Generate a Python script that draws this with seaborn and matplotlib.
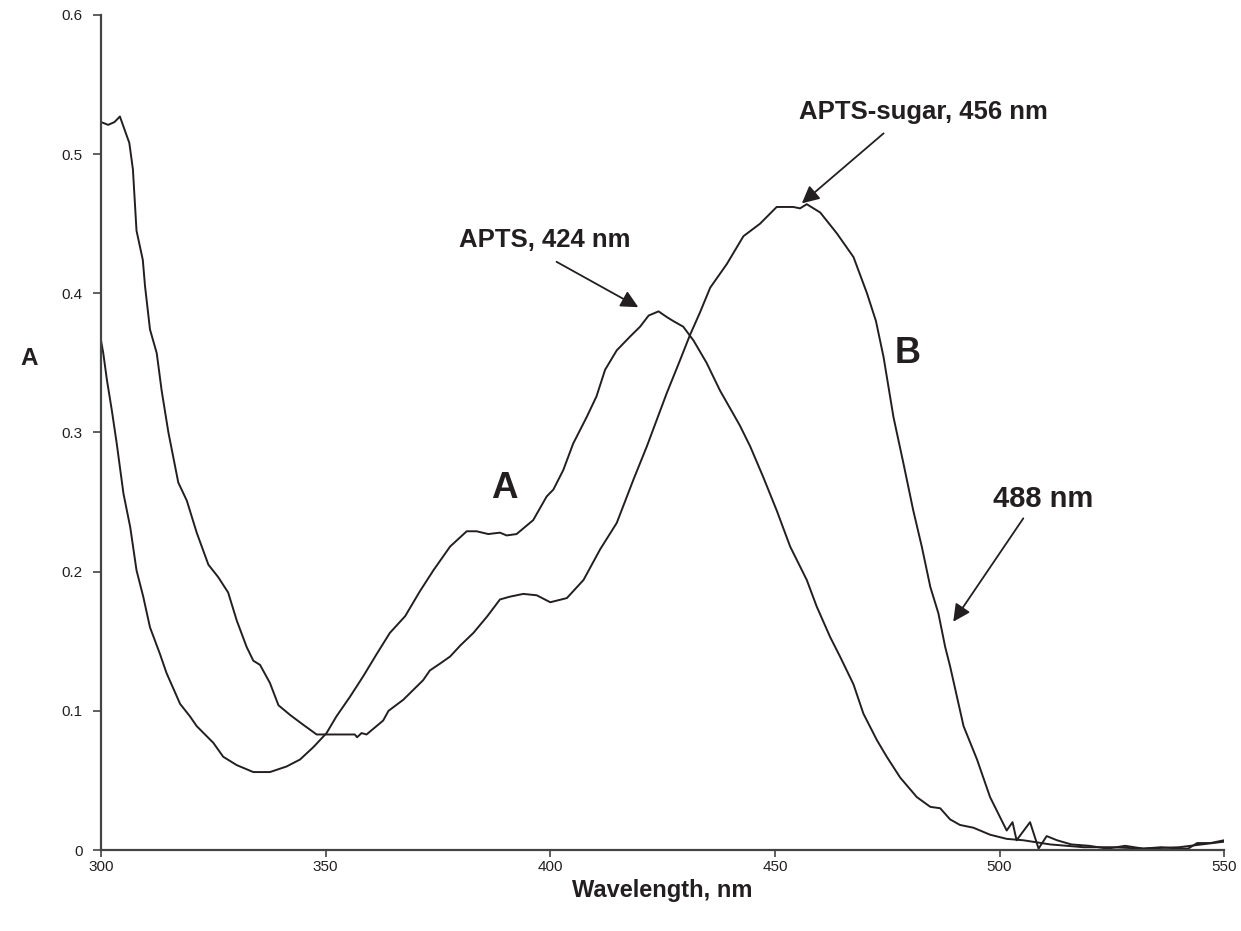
import numpy as np
import matplotlib
matplotlib.use('Agg')
import matplotlib.pyplot as plt
import seaborn as sns

sns.set_style('ticks')
plt.rcParams['font.family'] = ['Liberation Sans', 'DejaVu Sans']

# APTS-sugar (curve B)
wl_b = [300, 301.6, 303, 304.2, 306.3, 307.1, 307.9, 309.3, 309.8, 310.9, 312.4, 313.5,
        315.0, 317.2, 319.1, 321.3, 323.9, 326.1, 328.3, 330.2, 332.4, 333.9, 335.4,
        337.6, 339.5, 342.1, 345.0, 348.0, 352, 356.5, 357, 358, 359.1, 362.8, 364.0,
        367.3, 371.7, 373.2, 375.5, 377.7, 380, 382.9, 386, 388.8, 391, 394.0, 397.0,
        400.0, 403.7, 407.4, 411.1, 414.8, 418.5, 421.5, 425.9, 428.9, 431.1, 433.3,
        435.6, 439.3, 443.0, 446.7, 450.4, 454.1, 455.6, 457.1, 460.1, 463.8, 467.5,
        470.5, 472.5, 474.2, 476.4, 478.6, 480.8, 482.7, 484.6, 486.4, 487.9, 489.0,
        492.0, 495.0, 497.9, 501.6, 502.9, 503.8, 506.8, 508.7, 510.5, 512.8, 516, 520,
        524, 528, 532, 536, 540, 542, 544, 547, 550]
abs_b = [0.523, 0.521, 0.523, 0.527, 0.508, 0.489, 0.445, 0.424, 0.405, 0.374, 0.357, 0.330,
         0.300, 0.264, 0.251, 0.228, 0.205, 0.196, 0.185, 0.165, 0.146, 0.136, 0.133,
         0.120, 0.104, 0.097, 0.090, 0.083, 0.083, 0.083, 0.081, 0.084, 0.083, 0.093, 0.100,
         0.108, 0.122, 0.129, 0.134, 0.139, 0.147, 0.156, 0.168, 0.180, 0.182, 0.184, 0.183,
         0.178, 0.181, 0.194, 0.216, 0.235, 0.266, 0.290, 0.328, 0.352, 0.370, 0.386,
         0.404, 0.421, 0.441, 0.450, 0.462, 0.462, 0.461, 0.464, 0.458, 0.443, 0.426,
         0.400, 0.380, 0.354, 0.311, 0.278, 0.244, 0.218, 0.189, 0.170, 0.146, 0.132,
         0.089, 0.065, 0.038, 0.014, 0.020, 0.007, 0.020, 0.001, 0.010, 0.007, 0.004, 0.003,
         0.001, 0.003, 0.001, 0.002, 0.001, 0.001, 0.005, 0.005, 0.007]

# APTS (curve A)
wl_a = [300, 300.5, 301.3, 302.4, 303.5, 305.0, 306.5, 307.9, 309.4, 310.9, 313.1, 314.6,
        317.6, 319.8, 321.3, 325.0, 327.2, 330.2, 333.9, 337.6, 341.3, 344.3, 347.3,
        350.2, 352.4, 355.4, 358.4, 361.4, 364.3, 367.7, 371.0, 374.0, 377.7, 381.4,
        383.6, 386.2, 388.8, 390.3, 392.5, 396.2, 399.2, 400.7, 402.9, 405.1, 408.1,
        410.3, 412.2, 414.8, 417.8, 420.0, 421.9, 424.1, 425.9, 427.4, 429.6, 431.9,
        434.8, 437.8, 440.8, 442.2, 444.5, 447.4, 450.4, 453.4, 457.1, 459.3, 462.3,
        464.5, 467.5, 469.7, 472.7, 474.9, 477.9, 481.6, 484.6, 486.8, 489.0, 491.2,
        494.2, 497.9, 501.6, 505.3, 511.3, 518.7, 525, 532, 540, 545, 550]
abs_a = [0.366, 0.357, 0.338, 0.316, 0.292, 0.256, 0.232, 0.201, 0.182, 0.160, 0.141, 0.127,
         0.105, 0.096, 0.089, 0.077, 0.067, 0.061, 0.056, 0.056, 0.060, 0.065, 0.074,
         0.084, 0.096, 0.110, 0.125, 0.141, 0.156, 0.168, 0.186, 0.201, 0.218, 0.229,
         0.229, 0.227, 0.228, 0.226, 0.227, 0.237, 0.254, 0.259, 0.273, 0.292, 0.311,
         0.326, 0.345, 0.359, 0.369, 0.376, 0.384, 0.387, 0.383, 0.380, 0.376, 0.366,
         0.350, 0.330, 0.313, 0.305, 0.290, 0.268, 0.244, 0.218, 0.194, 0.175, 0.153,
         0.139, 0.119, 0.098, 0.079, 0.067, 0.052, 0.038, 0.031, 0.030, 0.022, 0.018,
         0.016, 0.011, 0.008, 0.007, 0.004, 0.002, 0.002, 0.001, 0.002, 0.004, 0.006]

x_ticks = [300, 350, 400, 450, 500, 550]
y_ticks = [0, 0.1, 0.2, 0.3, 0.4, 0.5, 0.6]
y_tick_labels = ['0', '0.1', '0.2', '0.3', '0.4', '0.5', '0.6']

ink = '#231f20'

fig = plt.figure(figsize=(12.41, 9.31), dpi=100)
ax = fig.add_axes([0.0814, 0.087, 0.905, 0.897])

sns.lineplot(x=wl_a, y=abs_a, ax=ax, color=ink, linewidth=1.4, estimator=None)
sns.lineplot(x=wl_b, y=abs_b, ax=ax, color=ink, linewidth=1.4, estimator=None)

ax.set_xlim(300, 550)
ax.set_ylim(0, 0.6)
ax.set_xticks(x_ticks)
ax.set_yticks(y_ticks)
ax.set_yticklabels(y_tick_labels)
ax.tick_params(axis='both', direction='out', width=1.2, color='#444444',
               labelsize=11, labelcolor=ink)
ax.tick_params(axis='y', length=6, pad=7)
ax.tick_params(axis='x', length=5, pad=2)
sns.despine(ax=ax)
for side in ['left', 'bottom']:
    ax.spines[side].set_linewidth(1.6)
    ax.spines[side].set_color('#444444')

ax.set_xlabel('Wavelength, nm', fontsize=17, fontweight='bold', color=ink, labelpad=4)
ax.set_ylabel('A', fontsize=17.5, fontweight='bold', color=ink, rotation=0, labelpad=0)
ax.yaxis.set_label_coords(-0.064, 0.575)

arrow = dict(arrowstyle='-|>', color=ink, lw=1.3, mutation_scale=26, shrinkA=0, shrinkB=0)

# APTS peak
ax.annotate('', xy=(419.6, 0.390), xytext=(401.4, 0.4226), arrowprops=arrow)
ax.text(398.8, 0.438, 'APTS, 424 nm', fontsize=18.5, fontweight='bold', color=ink,
        ha='center', va='center')

# APTS-sugar peak
ax.annotate('', xy=(456.0, 0.4646), xytext=(474.2, 0.5149), arrowprops=arrow)
ax.text(483.0, 0.530, 'APTS-sugar, 456 nm', fontsize=18.5, fontweight='bold', color=ink,
        ha='center', va='center')

# 488 nm excitation
ax.annotate('', xy=(489.7, 0.164), xytext=(505.3, 0.2383), arrowprops=arrow)
ax.text(509.7, 0.252, '488 nm', fontsize=21, fontweight='bold', color=ink,
        ha='center', va='center')

ax.text(389.7, 0.260, 'A', fontsize=26.5, fontweight='bold', color=ink, ha='center', va='center')
ax.text(479.5, 0.357, 'B', fontsize=26, fontweight='bold', color=ink, ha='center', va='center')

plt.savefig('out.png', dpi=100)
